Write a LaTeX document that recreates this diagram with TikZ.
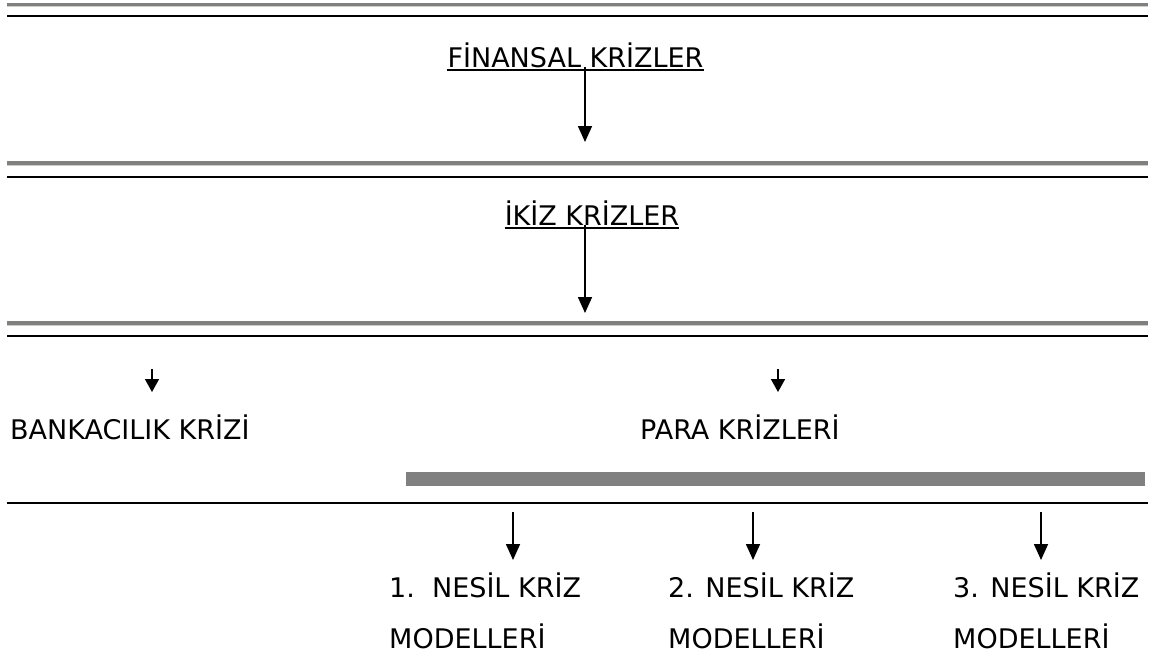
\documentclass[tikz,border=0pt]{standalone}
\usepackage{fontspec}
\setmainfont{DejaVu Sans}
\usetikzlibrary{arrows.meta}

\tikzset{
  heading/.style={inner sep=0pt, font=\fontsize{27}{30}\selectfont},
  rulegray/.style={line width=3.5pt, draw={rgb,255:red,128;green,128;blue,128}},
  ruleshade/.style={line width=1pt, draw={rgb,255:red,205;green,205;blue,200}},
  ruleblack/.style={line width=2pt},
  bigarrow/.style={line width=1.6pt, -{Triangle[width=14pt,length=16pt]}},
  smallarrow/.style={line width=1.6pt, -{Triangle[width=14pt,length=13pt]}},
}

\begin{document}
\begin{tikzpicture}[x=1pt,y=-1pt]
\useasboundingbox (0,0) rectangle (1155,657);

% Double rules between the levels
\foreach \y in {4.5,163,323} {
  \draw[rulegray] (7,\y) -- (1148,\y);
  \draw[ruleshade] (7,\y+2.3) -- (1148,\y+2.3);
}
\foreach \y in {16,177,336,503}
  \draw[ruleblack] (7,\y) -- (1148,\y);

% Bar under the currency crises
\fill[rulegray, fill={rgb,255:red,128;green,128;blue,128}] (408,474) rectangle (1143,484);

% Financial crises
\node[heading, anchor=base] (fin) at (575.5,67) {FİNANSAL KRİZLER};
\draw[line width=1.4pt] ([yshift=-3pt]fin.base west) -- ([yshift=-3pt]fin.base east);
\coordinate (fin-tip) at (585,142);
\draw[bigarrow] (fin.base -| fin-tip) -- (fin-tip);

% Twin crises
\node[heading, anchor=base] (twin) at (592,225) {İKİZ KRİZLER};
\draw[line width=1.4pt] ([yshift=-3pt]twin.base west) -- ([yshift=-3pt]twin.base east);
\coordinate (twin-tip) at (585,313);
\draw[bigarrow] (twin.base -| twin-tip) -- (twin-tip);

% Banking and currency crises
\coordinate (bank-top) at (152,369);
\coordinate (bank-tip) at (152,392);
\draw[smallarrow] (bank-top) -- (bank-tip);
\node[heading, anchor=base west] (bank) at (10,439) {BANKACILIK KRİZİ};

\coordinate (para-top) at (778,369);
\coordinate (para-tip) at (778,392);
\draw[smallarrow] (para-top) -- (para-tip);
\node[heading, anchor=base west] (para) at (640,439) {PARA KRİZLERİ};

% Generations of crisis models
\foreach \n/\ax/\tx/\txt in {1/513/389/{1.\ \ NESİL KRİZ},
                             2/753/668/{2. NESİL KRİZ},
                             3/1041/953/{3. NESİL KRİZ}} {
  \coordinate (g\n-top) at (\ax,512);
  \coordinate (g\n-tip) at (\ax,560);
  \draw[bigarrow] (g\n-top) -- (g\n-tip);
  \node[heading, anchor=base west] (gen\n) at (\tx,597) {\txt};
  \node[heading, anchor=base west] (gen\n-b) at (\tx,648) {MODELLERİ};
}

\end{tikzpicture}
\end{document}
